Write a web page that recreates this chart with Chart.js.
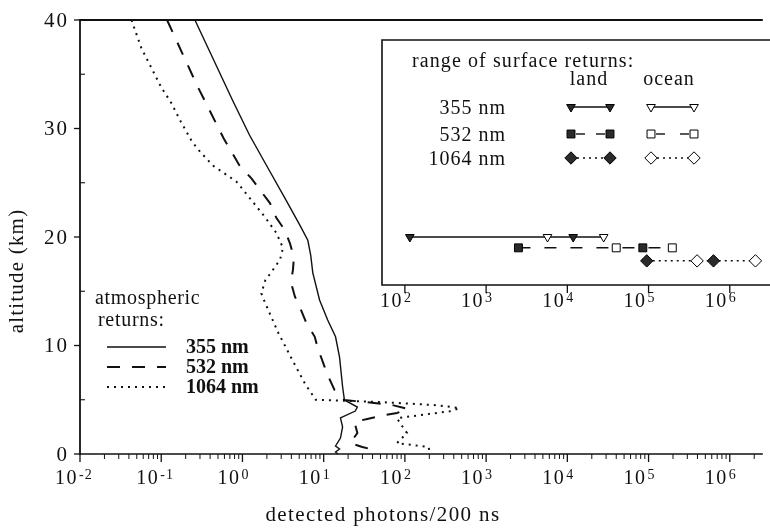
<!DOCTYPE html>
<html><head><meta charset="utf-8">
<script src="https://cdn.jsdelivr.net/npm/chart.js@4/dist/chart.umd.min.js"></script>
<style>html,body{margin:0;padding:0;background:#fff;}canvas{display:block;}</style>
</head><body>
<canvas id="c" width="770" height="528"></canvas>
<script>
// ---- data (altitude km, detected photons / 200 ns) ----
const alt355 = [40, 36.1, 32.6, 29.4, 26.8, 23.4, 21.1, 19.7, 18.3, 16.7, 14.2, 12.35, 10.8, 8.9, 6.2, 4.98, 4.33, 3.96, 3.32, 2.49, 1.47, 0.74, 0.46, 0.18, 0];
const val355 = [0.26, 0.456, 0.755, 1.22, 1.91, 3.44, 5.09, 6.38, 6.93, 7.35, 8.9, 11.2, 14.0, 15.7, 17.1, 18.0, 26, 24.5, 16.1, 17.1, 16.1, 14.0, 15.7, 14.0, 15.0];
const alt532 = [40, 34.0, 29.1, 26.6, 25.4, 24.3, 23.1, 21.8, 20.6, 19.4, 18.1, 17.0, 15.8, 14.5, 13.3, 12.2, 10.8, 9.77, 8.0, 7.28, 5.9, 4.98, 4.7, 4.52, 4.15, 3.78, 3.5, 3.23, 2.95, 1.94, 1.01, 0.65, 0.46, 0.09];
const val532 = [0.118, 0.275, 0.586, 0.918, 1.29, 1.66, 2.19, 2.60, 3.34, 3.85, 4.3, 4.19, 3.96, 4.43, 5.24, 6.03, 7.77, 8.45, 10.3, 11.2, 13.6, 18.0, 41.9, 69, 109, 80, 49.5, 34.4, 23.9, 26, 21.3, 29.9, 37.4, 38];
const alt1064 = [40, 37.4, 35.6, 33.8, 32.4, 30.6, 28.8, 28.0, 26.6, 25.1, 23.4, 21.8, 20.4, 19.0, 17.9, 17.0, 16.0, 14.8, 13.9, 11.2, 8.9, 6.5, 5.0, 4.8, 4.5, 4.24, 3.96, 3.3, 2.86, 1.94, 1.0, 0.65, 0.1];
const val1064 = [0.043, 0.057, 0.0755, 0.1, 0.132, 0.175, 0.239, 0.29, 0.43, 0.845, 1.29, 1.91, 2.6, 3.16, 2.9, 2.39, 1.91, 1.71, 1.91, 2.75, 3.96, 5.87, 7.98, 45.6, 246, 469, 374, 80, 87, 106, 80, 196, 202];

// surface return ranges (inset)
const wavelengths = ['355 nm', '532 nm', '1064 nm'];
const surfaceRowAlt = [20.0, 19.0, 17.8];
const land355 = [115, 11800];   const ocean355 = [5700, 28000];
const land532 = [2500, 85000];  const ocean532 = [40000, 196000];
const land1064 = [95000, 630000]; const ocean1064 = [396000, 2070000];

// tick labels
const xTickExp = [-2, -1, 0, 1, 2, 3, 4, 5, 6];
const insetTickExp = [2, 3, 4, 5, 6];
const yTicks = [0, 10, 20, 30, 40];
const yMinorTicks = [5, 15, 25, 35];

const FONT = '"Liberation Serif","DejaVu Serif","Times New Roman",serif';
const INK = '#111';

function pts(alts, vals) { return alts.map((a, i) => ({x: vals[i], y: a})); }
function rowPts(vals, a) { return vals.map(v => ({x: v, y: a})); }

const styles = [
  {dash: [], w: 1.4, shape: 'triangle', rot: 180, r: 5},
  {dash: [13, 12], w: 2, shape: 'rect', rot: 0, r: 5.6},
  {dash: [2, 5], w: 2, shape: 'rectRot', rot: 0, r: 6.2}
];
const insetDash = [[], [12, 14], [2, 4]];

const lands = [land355, land532, land1064];
const oceans = [ocean355, ocean532, ocean1064];
const curves = [pts(alt355, val355), pts(alt532, val532), pts(alt1064, val1064)];

const datasets = [];
curves.forEach((d, i) => datasets.push({
  data: d, showLine: true, pointRadius: 0, borderColor: INK, borderWidth: styles[i].w,
  borderDash: styles[i].dash, borderCapStyle: 'butt', tension: 0, clip: false, order: 2
}));
for (let i = 0; i < 3; i++) {
  const all = lands[i].concat(oceans[i]);
  const lo = Math.min(...all), hi = Math.max(...all);
  datasets.push({data: rowPts([lo, hi], surfaceRowAlt[i]), showLine: true, pointRadius: 0,
    borderColor: INK, borderWidth: i === 0 ? 1.3 : 1.5, borderDash: insetDash[i], clip: false, order: 1});
  datasets.push({data: rowPts(lands[i], surfaceRowAlt[i]), showLine: false, pointStyle: styles[i].shape,
    pointRotation: styles[i].rot, pointRadius: styles[i].r, pointBackgroundColor: '#2a2a2a',
    pointBorderColor: '#000', pointBorderWidth: 1, clip: false, order: 0});
  datasets.push({data: rowPts(oceans[i], surfaceRowAlt[i]), showLine: false, pointStyle: styles[i].shape,
    pointRotation: styles[i].rot, pointRadius: styles[i].r, pointBackgroundColor: '#fff',
    pointBorderColor: '#000', pointBorderWidth: 1, clip: false, order: 0});
}

function text(ctx, s, x, y, size, align, opt) {
  opt = opt || {};
  ctx.fillStyle = INK;
  ctx.font = (opt.bold ? 'bold ' : '') + size + 'px ' + FONT;
  ctx.letterSpacing = (opt.ls || 0) + 'px';
  ctx.textAlign = align || 'left';
  ctx.textBaseline = opt.base || 'alphabetic';
  ctx.fillText(s, x, y);
}
function pow10(ctx, e, px, base) {
  text(ctx, '10', px - 2, base, 20, 'right', {ls: 1.5});
  text(ctx, String(e), px - 1, base - 5, 14, 'left', {ls: 1});
}
function marker(ctx, shape, x, y, r, filled) {
  ctx.beginPath();
  if (shape === 'triangle') {
    ctx.moveTo(x, y + r); ctx.lineTo(x - 0.866 * r, y - 0.5 * r); ctx.lineTo(x + 0.866 * r, y - 0.5 * r);
  } else if (shape === 'rect') {
    const s = r * Math.SQRT1_2; ctx.rect(x - s, y - s, 2 * s, 2 * s);
  } else {
    ctx.moveTo(x, y - r); ctx.lineTo(x + r, y); ctx.lineTo(x, y + r); ctx.lineTo(x - r, y);
  }
  ctx.closePath();
  ctx.fillStyle = filled ? '#2a2a2a' : '#fff'; ctx.fill();
  ctx.strokeStyle = '#000'; ctx.lineWidth = 1; ctx.setLineDash([]); ctx.stroke();
  ctx.fillStyle = INK; ctx.strokeStyle = INK;
}
function seg(ctx, x1, y1, x2, y2, w, dash) {
  ctx.strokeStyle = INK;
  ctx.beginPath(); ctx.lineWidth = w; ctx.setLineDash(dash || []);
  ctx.moveTo(x1, y1); ctx.lineTo(x2, y2); ctx.stroke(); ctx.setLineDash([]);
}

const decor = {
  id: 'decor',
  afterDatasetsDraw(chart) {
    const ctx = chart.ctx, a = chart.chartArea, xs = chart.scales.x, ys = chart.scales.y;
    ctx.save();
    ctx.strokeStyle = INK; ctx.fillStyle = INK; ctx.lineCap = 'butt';
    // frame (left, bottom, top)
    seg(ctx, a.left, a.top - 1, a.left, a.bottom + 1, 1.8);
    seg(ctx, a.left, a.bottom, a.right, a.bottom, 1.6);
    seg(ctx, a.left, a.top, a.right, a.top, 2);
    // x ticks
    xTickExp.forEach(e => {
      const px = xs.getPixelForValue(Math.pow(10, e));
      seg(ctx, px, a.bottom, px, a.bottom + 8, 1.3);
      for (let m = 2; m <= 9; m++) {
        const v = m * Math.pow(10, e);
        if (v > xs.max) break;
        const mx = xs.getPixelForValue(v);
        seg(ctx, mx, a.bottom, mx, a.bottom + 5, 1);
      }
      pow10(ctx, e, px, a.bottom + 30);
    });
    // y ticks
    yTicks.forEach(t => {
      const py = ys.getPixelForValue(t);
      seg(ctx, a.left - 6, py, a.left, py, 1.3);
      text(ctx, String(t), a.left - 11, py + 1, 21, 'right', {ls: 2, base: 'middle'});
    });
    yMinorTicks.forEach(t => {
      const py = ys.getPixelForValue(t);
      seg(ctx, a.left, py, a.left + 5, py, 1.1);
    });
    // axis titles
    text(ctx, 'detected photons/200 ns', 383, 521, 21, 'center', {ls: 1.4});
    ctx.save(); ctx.translate(23, 271); ctx.rotate(-Math.PI / 2);
    text(ctx, 'altitude (km)', 0, 0, 21, 'center', {ls: 1.2});
    ctx.restore();
    // atmospheric legend
    text(ctx, 'atmospheric', 95, 304, 20, 'left', {ls: 0.7});
    text(ctx, 'returns:', 98, 326, 20, 'left', {ls: 0.7});
    const legY = [347, 367, 387];
    legY.forEach((y, i) => {
      seg(ctx, 107, y, 166, y, i === 0 ? 1.3 : 2, i === 0 ? [] : (i === 1 ? [13, 12] : [2, 5]));
      text(ctx, wavelengths[i], 186, y + 1, 20, 'left', {bold: true, base: 'middle'});
    });
    // inset box
    ctx.strokeStyle = INK;
    ctx.beginPath(); ctx.lineWidth = 1.6; ctx.setLineDash([]);
    ctx.moveTo(a.right + 10, 40); ctx.lineTo(382, 40); ctx.lineTo(382, 285); ctx.lineTo(a.right + 10, 285);
    ctx.stroke();
    insetTickExp.forEach(e => {
      const px = xs.getPixelForValue(Math.pow(10, e));
      seg(ctx, px, 285, px, 293, 1.3);
      pow10(ctx, e, px, 307);
    });
    // inset legend
    text(ctx, 'range of surface returns:', 412, 67, 20, 'left', {ls: 1.1});
    text(ctx, 'land', 589, 85, 20, 'center', {ls: 1});
    text(ctx, 'ocean', 669, 85, 20, 'center', {ls: 1});
    const rowY = [107, 134, 158];
    const textY = [114, 141, 165];
    const lx = [571, 610], ox = [651, 694];
    rowY.forEach((y, i) => {
      text(ctx, wavelengths[i], 506, textY[i], 20, 'right', {ls: 1});
      [lx, ox].forEach(xx => {
        if (i === 0) seg(ctx, xx[0], y, xx[1], y, 1.3);
        else if (i === 1) { seg(ctx, xx[0] + 5, y, xx[0] + 14, y, 1.4); seg(ctx, xx[1] - 14, y, xx[1] - 5, y, 1.4); }
        else seg(ctx, xx[0] + 6, y, xx[1] - 6, y, 1.5, [2, 4]);
      });
      marker(ctx, styles[i].shape, lx[0], y, styles[i].r, true);
      marker(ctx, styles[i].shape, lx[1], y, styles[i].r, true);
      marker(ctx, styles[i].shape, ox[0], y, styles[i].r, false);
      marker(ctx, styles[i].shape, ox[1], y, styles[i].r, false);
    });
    ctx.restore();
  }
};

new Chart(document.getElementById('c'), {
  type: 'scatter',
  data: {datasets},
  options: {
    responsive: false, animation: false, devicePixelRatio: 1, events: [],
    layout: {padding: {left: 80, top: 20, right: 0, bottom: 74}},
    scales: {
      x: {type: 'logarithmic', min: 0.01, max: 2.55e6, display: false},
      y: {type: 'linear', min: 0, max: 40, display: false}
    },
    plugins: {legend: {display: false}, tooltip: {enabled: false}}
  },
  plugins: [decor]
});
</script>
</body></html>
